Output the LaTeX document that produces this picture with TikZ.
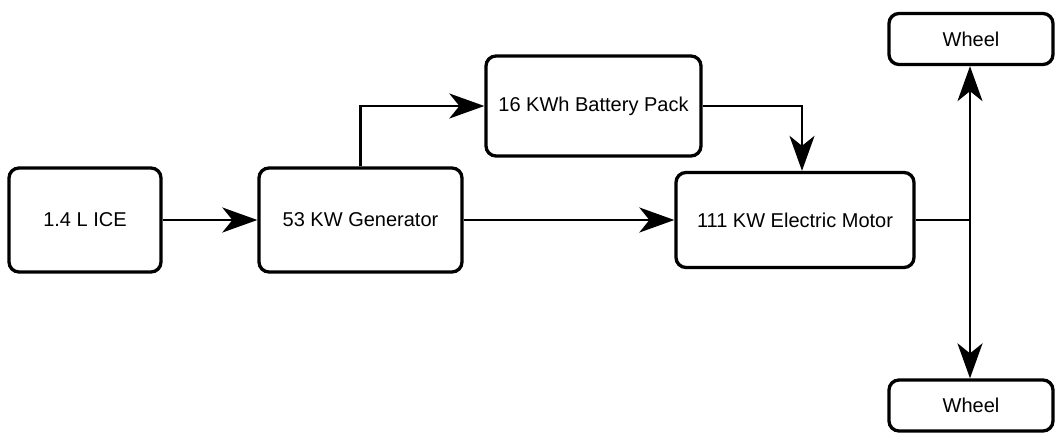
\documentclass[tikz,border=0pt]{standalone}
\usepackage{fontspec}
\setmainfont{Liberation Sans}
\usetikzlibrary{arrows.meta}
\begin{document}
\begin{tikzpicture}[x=1pt,y=-1pt,
  blk/.style={draw=black,line width=3.3pt,rounded corners=10pt,fill=white,inner sep=0pt,
    font=\fontsize{20}{24}\selectfont},
  conn/.style={line width=2.6pt,-{Stealth[length=35pt,width=25pt,inset=10pt]}},
  plain/.style={line width=2.6pt}]
\useasboundingbox (0,0) rectangle (1055,434);
\node[blk,minimum width=152pt,minimum height=104pt] (ice) at (85,220) {1.4 L ICE};
\node[blk,minimum width=203pt,minimum height=104pt] (gen) at (360.5,220) {53 KW Generator};
\node[blk,minimum width=215pt,minimum height=100pt] (bat) at (593.5,106) {16 KWh Battery Pack};
\node[blk,minimum width=238pt,minimum height=95pt] (mot) at (795,220) {111 KW Electric Motor};
\node[blk,minimum width=164pt,minimum height=51pt] (w1) at (971,39) {Wheel};
\node[blk,minimum width=164pt,minimum height=51pt] (w2) at (971,405.5) {Wheel};
\coordinate (j) at (970,220);
\draw[conn] (ice) -- (gen);
\draw[conn] (gen) -- (mot);
\draw[conn] (gen.north) |- (bat.west);
\draw[conn] (bat.east) -| ([xshift=7pt]mot.north);
\draw[plain] (mot.east) -- (j);
\draw[conn] (j) -- (j |- w1.south);
\draw[conn] (j) -- (j |- w2.north);
\end{tikzpicture}
\end{document}
